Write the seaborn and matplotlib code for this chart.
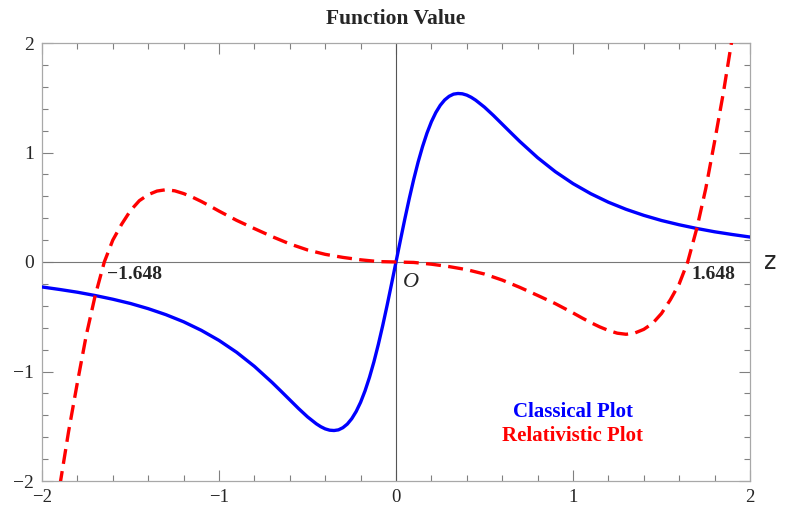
import numpy as np
import pandas as pd
import matplotlib
matplotlib.use("Agg")
import matplotlib.pyplot as plt
from matplotlib.ticker import MultipleLocator
import seaborn as sns

# ---- data ----
z_classical = [-2.0, -1.9, -1.8, -1.7, -1.6, -1.5, -1.4, -1.3, -1.2, -1.1, -1.0,
               -0.9, -0.8, -0.7, -0.65, -0.6, -0.55, -0.5, -0.45, -0.425, -0.4,
               -0.375, -0.35, -0.325, -0.3, -0.275, -0.25, -0.225, -0.2, -0.175,
               -0.15, -0.125, -0.1, -0.075, -0.05, -0.025, 0.0,
               0.025, 0.05, 0.075, 0.1, 0.125, 0.15, 0.175, 0.2, 0.225, 0.25,
               0.275, 0.3, 0.325, 0.35, 0.375, 0.4, 0.425, 0.45, 0.5, 0.55,
               0.6, 0.65, 0.7, 0.8, 0.9, 1.0, 1.1, 1.2, 1.3, 1.4, 1.5, 1.6,
               1.7, 1.8, 1.9, 2.0]
v_classical = [-0.228, -0.251, -0.276, -0.306, -0.340, -0.379, -0.426, -0.481,
               -0.546, -0.624, -0.716, -0.825, -0.953, -1.100, -1.179, -1.259,
               -1.339, -1.414, -1.478, -1.504, -1.524, -1.536, -1.539, -1.533,
               -1.513, -1.480, -1.431, -1.365, -1.281, -1.177, -1.054, -0.913,
               -0.754, -0.580, -0.394, -0.199, 0.0,
               0.199, 0.394, 0.580, 0.754, 0.913, 1.054, 1.177, 1.281, 1.365,
               1.431, 1.480, 1.513, 1.533, 1.539, 1.536, 1.524, 1.504, 1.478,
               1.414, 1.339, 1.259, 1.179, 1.100, 0.953, 0.825, 0.716, 0.624,
               0.546, 0.481, 0.426, 0.379, 0.340, 0.306, 0.276, 0.251, 0.228]

z_relativistic = [-1.95, -1.9, -1.85, -1.8, -1.75, -1.7, -1.648, -1.6, -1.55,
                  -1.5, -1.45, -1.4, -1.35, -1.3, -1.25, -1.2, -1.15, -1.1,
                  -1.05, -1.0, -0.9, -0.8, -0.7, -0.6, -0.5, -0.4, -0.3, -0.2,
                  -0.1, 0.0, 0.1, 0.2, 0.3, 0.4, 0.5, 0.6, 0.7, 0.8, 0.9, 1.0,
                  1.05, 1.1, 1.15, 1.2, 1.25, 1.3, 1.35, 1.4, 1.45, 1.5, 1.55,
                  1.6, 1.648, 1.7, 1.75, 1.8, 1.85, 1.9, 1.95]
v_relativistic = [-2.6, -2.05, -1.55, -1.1, -0.67, -0.31, 0.0, 0.2, 0.345,
                  0.47, 0.56, 0.615, 0.648, 0.66, 0.65, 0.625, 0.592, 0.553,
                  0.51, 0.465, 0.38, 0.305, 0.232, 0.165, 0.11, 0.07, 0.042,
                  0.02, 0.004, 0.0, -0.004, -0.02, -0.042, -0.07, -0.11,
                  -0.165, -0.232, -0.305, -0.38, -0.465, -0.51, -0.553, -0.592,
                  -0.625, -0.65, -0.66, -0.648, -0.615, -0.56, -0.47, -0.345,
                  -0.2, 0.0, 0.31, 0.67, 1.1, 1.55, 2.05, 2.6]

tick_vals = [-2, -1, 0, 1, 2]
tick_labels = ["\u22122", "\u22121", "0", "1", "2"]
root_labels = ["\u22121.648", "1.648"]
legend_labels = ["Classical Plot", "Relativistic Plot"]
title_text = "Function Value"

df_c = pd.DataFrame({"z": z_classical, "v": v_classical})
df_r = pd.DataFrame({"z": z_relativistic, "v": v_relativistic})

sns.set_style("white")
serif = ["Liberation Serif", "DejaVu Serif"]

fig = plt.figure(figsize=(7.85, 5.07), dpi=100)
ax = fig.add_axes([42 / 785, 1 - 481 / 507, (750 - 42) / 785, (481 - 43) / 507])

ax.axhline(0, color="#777777", lw=0.8, zorder=1)
ax.axvline(0, color="#555555", lw=0.8, zorder=1)

sns.lineplot(data=df_c, x="z", y="v", ax=ax, color="#0000ff", lw=2.4,
             sort=False, estimator=None, zorder=3)
sns.lineplot(data=df_r, x="z", y="v", ax=ax, color="#ff0000", lw=2.4,
             sort=False, estimator=None, zorder=4, dashes=False)
ax.lines[-1].set_dashes([4.5, 2.2])
for ln in ax.lines:
    ln.set_solid_joinstyle("round")
    ln.set_dash_joinstyle("round")

ax.set_xlim(-2, 2)
ax.set_ylim(-2, 2)
ax.set_xlabel("")
ax.set_ylabel("")

for s in ax.spines.values():
    s.set_color("#a8a8a8")
    s.set_linewidth(0.9)
    s.set_visible(True)

ax.set_xticks(tick_vals)
ax.set_yticks(tick_vals)
ax.set_xticklabels(tick_labels, fontfamily=serif, fontsize=13.5)
ax.set_yticklabels(tick_labels, fontfamily=serif, fontsize=14)
ax.xaxis.set_minor_locator(MultipleLocator(0.2))
ax.yaxis.set_minor_locator(MultipleLocator(0.2))
ax.tick_params(which="both", direction="in", top=True, right=True,
               bottom=True, left=True, color="#808080", width=0.8)
ax.tick_params(which="major", length=8, pad=6)
ax.tick_params(which="minor", length=4.5)
ax.tick_params(axis="x", which="major", pad=5.5)

fig.text(0.5 * (42 + 750) / 785, 1 - 19 / 507, title_text, ha="center",
         va="center", fontfamily=serif, fontweight="bold", fontsize=15.5)

ax.text(2.08, 0, "z", transform=ax.transData, ha="left", va="center",
        fontsize=17, fontfamily="DejaVu Sans", clip_on=False)
ax.text(0.04, -0.1, "O", ha="left", va="top", fontsize=16,
        fontfamily=serif, fontstyle="italic")
ax.text(-1.63, -0.04, root_labels[0], ha="left", va="top", fontsize=14,
        fontfamily=serif, fontweight="bold")
ax.text(1.67, -0.04, root_labels[1], ha="left", va="top", fontsize=14,
        fontfamily=serif, fontweight="bold")

ax.text(1.0, -1.37, legend_labels[0], ha="center", va="center", fontsize=15,
        fontfamily=serif, fontweight="bold", color="#0000ff")
ax.text(1.0, -1.59, legend_labels[1], ha="center", va="center", fontsize=15,
        fontfamily=serif, fontweight="bold", color="#ff0000")

fig.savefig("out.png", dpi=100)
